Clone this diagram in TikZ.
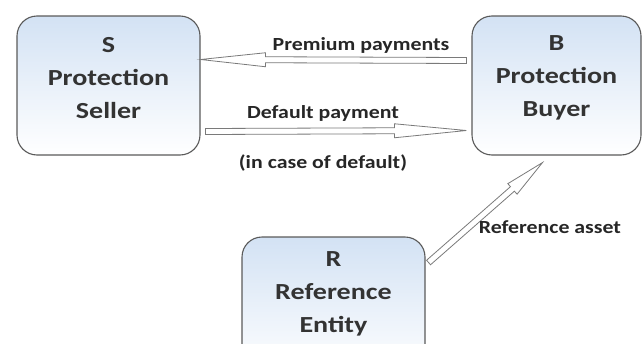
\documentclass[tikz,border=0pt]{standalone}
\usepackage{fontspec}
\setmainfont{Carlito}
\newfontfamily\boxfont{Carlito}[FakeStretch=1.22]
\newfontfamily\flowfont{Carlito}[FakeStretch=1.18]
\usetikzlibrary{calc}
\definecolor{boxtop}{HTML}{D3E2F4}
\definecolor{boxline}{HTML}{5A5A5A}
\definecolor{txtgray}{HTML}{333333}
\definecolor{arrline}{HTML}{7A7A7A}
\tikzset{
  ent/.style={draw=boxline,line width=1.1pt,rounded corners=20pt,top color=boxtop,bottom color=white,minimum width=183pt,minimum height=139pt},
  enttxt/.style={align=center,text=txtgray,font=\boxfont\fontsize{23}{33}\selectfont\bfseries},
  flow/.style={font=\flowfont\fontsize{18.5}{20}\selectfont\bfseries,text=black!85},
  hollow/.style={draw=arrline,fill=white,line width=0.8pt,line join=miter}
}
% hollow arrow from #2 to #3, head length #1
\newcommand\hollowarrow[3][65pt]{%
  \coordinate (hb) at ($(#3)!#1!(#2)$);
  \draw[hollow] ($(#2)!3pt!-90:(#3)$) -- ($(hb)!3pt!90:(#2)$) -- ($(hb)!7pt!90:(#2)$) -- (#3)
    -- ($(hb)!7pt!-90:(#2)$) -- ($(hb)!3pt!-90:(#2)$) -- ($(#2)!3pt!90:(#3)$) -- cycle;}
\begin{document}
\begin{tikzpicture}[x=1pt,y=-1pt]
  \useasboundingbox (0,0) rectangle (643,343);
  \clip (0,0) rectangle (643,343);
  % parties
  \node[ent] (S) at (108.5,85.5) {};
  \node[enttxt] (St) at (108.5,78) {S\\Protection\\Seller};
  \node[ent,minimum width=169pt] (B) at (556.5,85.5) {};
  \node[enttxt] (Bt) at (556.5,78) {B\\Protection\\Buyer};
  \node[ent] (R) at (333.5,306.5) {};
  \node[enttxt] (Rt) at (333.5,294) {R\\Reference\\Entity};
  % flows
  \coordinate (p1) at ([xshift=-5pt,yshift=25pt]B.west);
  \coordinate (p2) at ([yshift=26pt]S.east);
  \coordinate (d1) at ([xshift=5pt,yshift=-46pt]S.east);
  \coordinate (d2) at ([xshift=-5pt,yshift=-45pt]B.west);
  \coordinate (r1) at ([xshift=3pt,yshift=44pt]R.east);
  \coordinate (r2) at ([xshift=-14pt,yshift=-7pt]B.south);
  \hollowarrow{p1}{p2}
  \hollowarrow[72pt]{d1}{d2}
  \hollowarrow[40pt]{r1}{r2}
  \node[flow] (lp) at (361,45) {Premium payments};
  \node[flow] (ld) at (323,113) {Default payment};
  \node[flow] (lc) at (323,163) {(in case of default)};
  \node[flow] (lr) at (550,227) {Reference asset};
\end{tikzpicture}
\end{document}
